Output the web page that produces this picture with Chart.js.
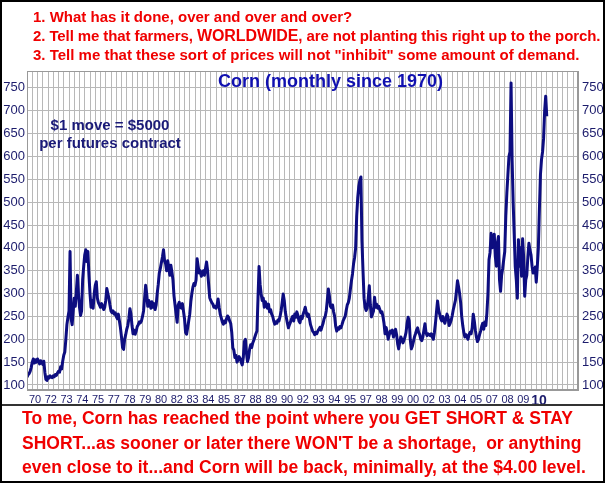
<!DOCTYPE html>
<html>
<head>
<meta charset="utf-8">
<script src="https://cdn.jsdelivr.net/npm/chart.js@4.4.1/dist/chart.umd.min.js"></script>
<style>
  body { margin: 0; background: #fff; }
  #wrap { position: relative; width: 605px; height: 483px; overflow: hidden; font-family: "Liberation Sans", Arial, sans-serif; font-weight: bold; }
  #chart { position: absolute; left: 0; top: 0; }
  #frame { position: absolute; left: 0; top: 0; width: 605px; height: 483px; box-sizing: border-box; border: 2px solid #000; pointer-events: none; }
  #sep { position: absolute; left: 0; top: 404px; width: 605px; height: 2px; background: #333; }
  .red { position: absolute; color: #f00000; white-space: nowrap; }
  #top { left: 33px; top: 7px; font-size: 15px; line-height: 19px; }
  #bottom { left: 22px; top: 406px; font-size: 17.5px; line-height: 24.5px; }
  #title { position: absolute; left: 218px; top: 71px; font-size: 18px; line-height: 20px; color: #1010b0; white-space: nowrap; }
  #note { position: absolute; left: 20px; top: 116px; width: 180px; text-align: center; font-size: 15px; line-height: 18px; color: #1a1a78; }
</style>
</head>
<body>
<div id="wrap">
  <canvas id="chart" width="605" height="483"></canvas>
  <div id="sep"></div>
  <div id="title">Corn (monthly since 1970)</div>
  <div id="note">$1 move = $5000<br>per futures contract</div>
  <div class="red" id="top">1. What has it done, over and over and over?<br><span style="letter-spacing:-0.1px">2. Tell me that farmers, <span style="font-size:16px">WORLDWIDE</span>, are not planting this right up to the porch.</span><br>3. Tell me that these sort of prices will not "inhibit" some amount of demand.</div>
  <div class="red" id="bottom">To me, Corn has reached the point where you GET SHORT &amp; STAY<br>SHORT...as sooner or later there WON'T be a shortage,&nbsp; or anything<br>even close to it...and Corn will be back, minimally, at the $4.00 level.</div>
  <div id="frame"></div>
</div>
<script>
// monthly corn prices (cents/bushel), Jan 1970 onwards
const startYear = 1970;
const prices = [
  117, 122, 125, 130, 138, 150, 157, 148, 155, 150, 157, 152, // 1970
  146, 153, 150, 145, 152, 128, 112, 110, 118, 115, 120, 117, // 1971
  116, 120, 118, 123, 121, 126, 130, 128, 140, 135, 152, 165, // 1972
  172, 200, 232, 248, 262, 392, 245, 232, 262, 290, 272, 305, // 1973
  340, 300, 270, 252, 262, 330, 360, 385, 396, 370, 392, 340, // 1974
  300, 270, 285, 268, 300, 318, 326, 290, 280, 275, 270, 278, // 1975
  272, 265, 270, 285, 311, 300, 290, 275, 262, 258, 262, 255, // 1976
  258, 250, 245, 255, 240, 225, 205, 182, 178, 200, 210, 222, // 1977
  230, 245, 267, 255, 230, 212, 220, 211, 218, 228, 232, 238, // 1978
  236, 240, 250, 262, 290, 318, 300, 272, 285, 278, 268, 282, // 1979
  270, 278, 265, 275, 300, 320, 345, 355, 368, 380, 396, 372, // 1980
  365, 350, 372, 358, 340, 362, 348, 330, 295, 275, 255, 237, // 1981
  275, 281, 270, 268, 278, 262, 245, 215, 211, 225, 240, 255, // 1982
  282, 300, 314, 322, 318, 330, 376, 360, 345, 350, 338, 342, // 1983
  350, 340, 355, 369, 350, 320, 291, 285, 280, 277, 270, 272, // 1984
  268, 275, 288, 270, 255, 247, 238, 233, 240, 236, 245, 251, // 1985
  248, 240, 235, 215, 181, 176, 160, 165, 150, 155, 162, 158, // 1986
  150, 144, 160, 195, 200, 170, 151, 160, 178, 188, 182, 192, // 1987
  198, 205, 212, 218, 290, 359, 320, 299, 285, 290, 270, 282, // 1988
  275, 268, 277, 260, 265, 255, 250, 240, 233, 238, 235, 242, // 1989
  240, 250, 262, 280, 299, 285, 260, 247, 235, 225, 232, 238, // 1990
  245, 250, 240, 255, 248, 260, 252, 240, 236, 250, 245, 255, // 1991
  262, 270, 258, 250, 255, 245, 232, 225, 218, 215, 210, 215, // 1992
  212, 218, 222, 226, 220, 228, 235, 245, 250, 262, 285, 310, // 1993
  295, 272, 269, 275, 260, 250, 228, 218, 225, 222, 228, 225, // 1994
  232, 240, 245, 250, 263, 275, 280, 290, 310, 328, 343, 365, // 1995
  379, 400, 470, 510, 535, 548, 555, 415, 350, 290, 270, 263, // 1996
  268, 290, 317, 275, 249, 255, 262, 292, 270, 277, 268, 272, // 1997
  265, 258, 260, 250, 235, 212, 226, 215, 200, 210, 218, 214, // 1998
  220, 205, 212, 222, 210, 190, 179, 195, 205, 200, 192, 198, // 1999
  205, 215, 235, 248, 240, 200, 179, 185, 195, 205, 212, 220, // 2000
  225, 215, 210, 200, 197, 205, 220, 234, 215, 208, 212, 210, // 2001
  208, 212, 205, 200, 215, 235, 260, 284, 265, 255, 245, 240, // 2002
  250, 240, 235, 245, 255, 248, 230, 235, 242, 252, 265, 275, // 2003
  285, 305, 328, 315, 300, 280, 250, 230, 215, 205, 210, 205, // 2004
  200, 210, 215, 212, 225, 255, 240, 220, 205, 195, 200, 210, // 2005
  218, 228, 235, 222, 238, 230, 257, 300, 374, 390, 432, 400, // 2006
  405, 430, 381, 360, 410, 425, 330, 305, 340, 355, 374, 392, // 2007
  470, 520, 560, 600, 610, 761, 593, 500, 430, 359, 330, 290, // 2008
  418, 360, 400, 338, 420, 380, 294, 330, 340, 380, 410, 395, // 2009
  385, 360, 345, 350, 358, 325, 359, 400, 484, 560, 593, 610, // 2010
  640, 700, 732, 688                                          // 2011
];

// one label every 15 months, grid line every 5 months
const xTickLabels = ['70','72','73','74','75','77','78','79','80','82','83','84','85','87','88','89','90',
  '92','93','94','95','97','98','99','00','02','03','04','05','07','08','09','10'];
const yTicks = [100, 150, 200, 250, 300, 350, 400, 450, 500, 550, 600, 650, 700, 750];
const gridMonths = 5;
const xMax = 2013.73;

const points = prices.map((p, i) => ({ x: startYear + i / 12, y: p }));

const gridTicks = [];
for (let m = 0; startYear + m / 12 <= xMax; m += gridMonths) {
  gridTicks.push({ value: startYear + m / 12 });
}

const plotFrame = {
  id: 'plotFrame',
  afterDraw(chart) {
    const a = chart.chartArea, c = chart.ctx;
    c.save();
    c.strokeStyle = '#999';
    c.lineWidth = 1;
    c.strokeRect(a.left + 0.5, a.top + 0.5, a.right - a.left - 1, a.bottom - a.top - 1);
    c.restore();
  }
};

const labelColor = '#1c1c6c';

new Chart(document.getElementById('chart'), {
  type: 'line',
  data: {
    datasets: [{
      data: points,
      borderColor: '#0d0d80',
      borderWidth: 3,
      borderJoinStyle: 'round',
      pointRadius: 0,
      tension: 0
    }]
  },
  options: {
    responsive: false,
    animation: false,
    layout: { padding: { top: 71, bottom: 78, left: 0, right: 0 } },
    plugins: { legend: { display: false }, tooltip: { enabled: false } },
    scales: {
      x: {
        type: 'linear',
        min: startYear,
        max: xMax,
        afterBuildTicks: s => { s.ticks = gridTicks.slice(); },
        afterFit: s => { s.height = 15; },
        grid: { color: '#b8b8b8', drawTicks: false },
        border: { color: '#999' },
        ticks: {
          autoSkip: false,
          maxRotation: 0,
          padding: 3,
          labelOffset: 8,
          color: labelColor,
          callback: (v, i) => (i % 3 === 0 && xTickLabels[i / 3]) ? xTickLabels[i / 3] : '',
          font: c => (c.tick && c.tick.label === '10')
            ? { family: 'Liberation Sans', size: 14, weight: 'bold' }
            : { family: 'Liberation Sans', size: 11 }
        }
      },
      y: {
        position: 'left',
        min: 89,
        max: 787,
        afterBuildTicks: s => { s.ticks = yTicks.map(v => ({ value: v })); },
        afterFit: s => { s.width = 27; },
        grid: { color: '#b8b8b8', drawTicks: false },
        border: { color: '#999' },
        ticks: { padding: 2, color: labelColor, font: { family: 'Liberation Sans', size: 13 } }
      },
      y2: {
        position: 'right',
        min: 89,
        max: 787,
        afterBuildTicks: s => { s.ticks = yTicks.map(v => ({ value: v })); },
        afterFit: s => { s.width = 27; },
        grid: { display: false, drawTicks: false },
        border: { color: '#999' },
        ticks: { padding: 4, color: labelColor, font: { family: 'Liberation Sans', size: 13 } }
      }
    }
  },
  plugins: [plotFrame]
});
</script>
</body>
</html>
